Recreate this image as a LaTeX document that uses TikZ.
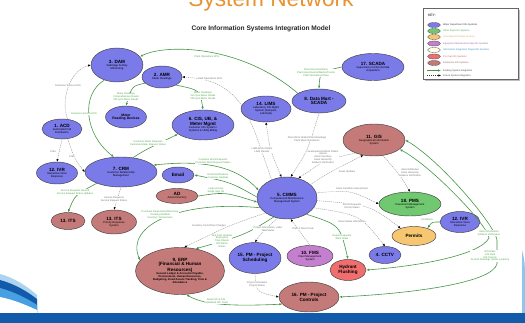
\documentclass[tikz,border=0pt]{standalone}
\usepackage{fontspec}
\setmainfont{Liberation Sans}
\usetikzlibrary{shapes.geometric,arrows.meta}
\definecolor{nblue}{RGB}{122,122,232}
\definecolor{nbrown}{RGB}{196,122,120}
\definecolor{ngreen}{RGB}{112,200,112}
\definecolor{norange}{RGB}{247,198,112}
\definecolor{npurple}{RGB}{196,128,206}
\definecolor{nred}{RGB}{240,110,110}
\definecolor{gline}{RGB}{70,150,70}
\definecolor{glabel}{RGB}{80,165,80}
\definecolor{titleor}{RGB}{232,146,48}
\definecolor{swdark}{RGB}{18,90,170}
\definecolor{swlight}{RGB}{70,160,225}
\newcommand\nodehd[1]{{\fontsize{4.6}{5}\selectfont\bfseries #1}}
\newcommand\nodemd[1]{{\fontsize{3.4}{3.8}\selectfont\bfseries #1}}
\begin{document}
\begin{tikzpicture}[x=1pt,y=-1pt,
  sys/.style={ellipse, draw=black!75, line width=0.45pt, inner sep=0pt, align=center, font=\fontsize{2.7}{3.1}\selectfont},
  bsys/.style={sys, fill=nblue},
  rsys/.style={sys, fill=nbrown},
  gsys/.style={sys, fill=ngreen},
  osys/.style={sys, fill=norange},
  psys/.style={sys, fill=npurple},
  hsys/.style={sys, fill=nred},
  eline/.style={draw=gline, line width=0.6pt, -{Latex[length=3pt,width=2.4pt]}},
  elineb/.style={draw=gline, line width=0.6pt, {Latex[length=3pt,width=2.4pt]}-{Latex[length=3pt,width=2.4pt]}},
  fline/.style={draw=black!45, line width=0.35pt, dash pattern=on 1.2pt off 0.8pt, -{Latex[length=2.6pt,width=2.2pt,color=black]}},
  flineb/.style={draw=black!45, line width=0.35pt, dash pattern=on 1.2pt off 0.8pt, {Latex[length=2.6pt,width=2.2pt,color=black]}-{Latex[length=2.6pt,width=2.2pt,color=black]}},
  lab/.style={font=\fontsize{2.5}{2.9}\selectfont, align=center, inner sep=0.3pt, fill=white},
  glab/.style={lab, text=glabel},
  flab/.style={lab, text=black!55},
  keye/.style={ellipse, draw=black!70, line width=0.3pt, minimum width=13pt, minimum height=5pt, inner sep=0pt},
  keyt/.style={anchor=west, inner sep=0pt, font=\fontsize{2.4}{2.8}\selectfont},
]
\useasboundingbox (0,0) rectangle (525,323);
% background
\fill[white] (0,0) rectangle (525,323);
\fill[swlight!45] (0,274) .. controls (15,278) and (28,287) .. (37,295) -- (37,323) -- (0,323) -- cycle;
\fill[swdark] (0,280) .. controls (15,284) and (28,292) .. (37,299) -- (37,323) -- (0,323) -- cycle;
\fill[swlight] (0,288) .. controls (15,292) and (28,299) .. (37,305) -- (37,323) -- (0,323) -- cycle;
\fill[white] (0,297) .. controls (15,300) and (28,306) .. (37,310) -- (37,323) -- (0,323) -- cycle;
\fill[swlight!60] (522,250) .. controls (525,262) .. (525,290) -- (525,313) -- (522,313) -- cycle;
\fill[swdark] (0,313) rectangle (525,323);

% title
\node[font=\fontsize{22.7}{24}\selectfont, text=titleor, anchor=base, inner sep=0pt] (title) at (271,7) {System Network};
\node[font=\fontsize{6.6}{7}\selectfont\bfseries, text=black!85, inner sep=0pt] (subtitle) at (261,29) {Core Information Systems Integration Model};

% key
\fill[black!25] (425,10) rectangle (520,81);
\node[draw=black!60, line width=0.4pt, fill=white, minimum width=95pt, minimum height=71pt, anchor=north west, inner sep=0pt] (key) at (423,8) {};
\node[keyt, font=\fontsize{3.4}{4}\selectfont] (keyhd) at (428,15) {KEY:};
\node[keye, fill=nblue] (k1) at (434,25) {};
\node[keyt, text=black!80] (k1t) at (443,25) {Water Department Info Systems};
\node[keye, fill=ngreen] (k2) at (434,31) {};
\node[keyt, text=glabel] (k2t) at (443,31) {Other Dept Info Systems};
\node[keye, fill=norange] (k3) at (434,37) {};
\node[keyt, text=norange!90!black] (k3t) at (443,37) {Unassigned Info/Mgt Systems};
\node[keye, fill=npurple] (k4) at (434,43.5) {};
\node[keyt, text=npurple!80!black] (k4t) at (443,43.5) {Equipment Maintenance Mgt Info Systems};
\node[keye, fill=yellow!8] (k5) at (434,50) {};
\node[keyt, text=cyan!70!black] (k5t) at (443,50) {Information Integration Target Info Systems};
\node[keye, fill=nred] (k6) at (434,56.5) {};
\node[keyt, text=nred!85!black] (k6t) at (443,56.5) {Pro Cap Info Systems};
\node[keye, fill=nbrown] (k7) at (434,63) {};
\node[keyt, text=nbrown!80!black] (k7t) at (443,63) {Enterprise Info Systems};
\coordinate (k8a) at (427,70.5); \coordinate (k8b) at (441,70.5);
\draw[eline] (k8a) -- (k8b);
\node[keyt, text=black!70] (k8t) at (443,70.5) {Existing System Integration};
\coordinate (k9a) at (427,75.5); \coordinate (k9b) at (441,75.5);
\draw[fline, draw=black!80] (k9a) -- (k9b);
\node[keyt, text=black!70] (k9t) at (443,75.5) {Future System Integration};

% systems
\node[bsys, minimum width=52pt, minimum height=34pt] (dam) at (117,65) {\nodehd{3. DAM}\\Sabotage Activity\\Monitoring};
\node[bsys, minimum width=40pt, minimum height=22pt] (amr) at (162,77) {\nodehd{2. AMR}\\Meter Readings};
\node[bsys, minimum width=41pt, minimum height=22pt] (mrd) at (126,117) {\nodemd{Meter}\\\nodemd{Reading Devices}};
\node[bsys, minimum width=40pt, minimum height=20pt] (acd) at (62,129) {\nodehd{1. ACD}\\Automated Call\\Distribution};
\node[bsys, minimum width=41pt, minimum height=22pt] (ivrl) at (57,173) {\nodehd{12. IVR}\\Interactive Voice\\Response};
\node[bsys, minimum width=72pt, minimum height=30pt] (crm) at (121,172) {\nodehd{7. CRM}\\Customer Relationship\\Management};
\node[bsys, minimum width=62pt, minimum height=30pt] (cis) at (203,125) {\nodehd{6. CIS, UB, \&}\\\nodehd{Meter Mgmt}\\Customer Info System /\\Systems \& Utility Billing};
\node[bsys, minimum width=50pt, minimum height=26pt] (lims) at (266,109) {\nodehd{14. LIMS}\\Laboratory Info Mgmt\\System (Samples,\\Lab Data)};
\node[bsys, minimum width=54pt, minimum height=24pt] (sdm) at (319,101) {\nodehd{8. Data Mart -}\\\nodehd{SCADA}};
\node[bsys, minimum width=62pt, minimum height=27pt] (scada) at (373,67) {\nodehd{17. SCADA}\\Supervisory Control \& Data\\Acquisition};
\node[rsys, minimum width=62pt, minimum height=32pt] (gis) at (374,140) {\nodehd{11. GIS}\\Geographical Information\\System};
\node[bsys, minimum width=32pt, minimum height=16pt] (email) at (178,175) {\nodehd{Email}};
\node[rsys, minimum width=42pt, minimum height=15pt] (ad) at (177,196) {\nodehd{AD}\\Active Directory};
\node[rsys, minimum width=34pt, minimum height=17pt] (its1) at (68,221) {\nodehd{13. ITS}};
\node[rsys, minimum width=45pt, minimum height=24pt] (its2) at (114,222) {\nodehd{13. ITS}\\Priority Response\\System};
\node[bsys, minimum width=60pt, minimum height=42pt] (cmms) at (287,198) {\nodehd{5. CMMS}\\Computerized Maintenance\\Management System};
\node[gsys, minimum width=62pt, minimum height=24pt] (pms) at (410,204) {\nodehd{18. PMS}\\Pavement Management\\System};
\node[bsys, minimum width=40pt, minimum height=21pt] (ivrr) at (460,222) {\nodehd{12. IVR}\\Interactive Voice\\Response};
\node[osys, minimum width=44pt, minimum height=19pt] (permits) at (414,236) {\nodehd{Permits}};
\node[rsys, minimum width=89pt, minimum height=47pt] (erp) at (180,271) {\nodehd{9. ERP}\\\nodehd{(Financial \& Human}\\\nodehd{Resources)}\\\textbf{General Ledger \& Accounts Payable,}\\\textbf{Procurement, Human Resources,}\\\textbf{Budgeting, Fixed Assets Tracking, Time \&}\\\textbf{Attendance}};
\node[bsys, minimum width=52pt, minimum height=31pt] (pmsched) at (255,258) {\nodehd{15. PM - Project}\\\nodehd{Scheduling}};
\node[psys, minimum width=46pt, minimum height=21pt] (fms) at (310,256) {\nodehd{10. FMS}\\Fleet Management\\System};
\node[hsys, minimum width=36pt, minimum height=21pt] (hf) at (348,270) {\nodehd{Hydrant}\\\nodehd{Flushing}};
\node[bsys, minimum width=32pt, minimum height=17pt] (cctv) at (385,255) {\nodehd{4. CCTV}};
\node[rsys, minimum width=60pt, minimum height=30pt] (pmc) at (309,297) {\nodehd{16. PM - Project}\\\nodehd{Controls}};

% connectors
\draw[eline] (sdm.160) .. controls (240,44) and (165,44) .. (dam.20);
\draw[eline] (amr.200) .. controls (132,86) .. (mrd.north);
\draw[eline] (amr.-30) .. controls (200,90) .. (cis.north);
\draw[fline] (cmms.130) .. controls (250,120) and (245,80) .. (amr.east);
\draw[fline] (acd.60) .. controls (60,100) and (70,70) .. (dam.west);
\draw[eline] (dam.230) .. controls (80,95) and (85,135) .. (crm.115);
\draw[eline] (crm.50) .. controls (145,150) .. (cis.200);
\draw[elineb] (crm.12) .. controls (200,160) and (235,165) .. (cmms.165);
\draw[eline] (cmms.178) .. controls (230,182) .. (email.east);
\draw[eline] (ad.east) .. controls (225,192) .. (cmms.188);
\draw[eline] (cmms.200) .. controls (180,200) and (125,225) .. (erp.165);
\draw[fline] (cmms.215) .. controls (230,225) .. (erp.80);
\draw[eline] (cmms.235) .. controls (245,235) .. (erp.55);
\draw[fline] (cmms.245) .. controls (262,232) .. (pmsched.north);
\draw[fline] (fms.north) .. controls (300,232) .. (cmms.280);
\draw[eline] (cmms.320) .. controls (340,225) .. (hf.north);
\draw[fline] (cmms.340) .. controls (360,215) .. (cctv.north);
\draw[fline] (cmms.355) .. controls (370,205) .. (permits.150);
\draw[fline] (cmms.10) .. controls (350,190) .. (pms.west);
\draw[fline] (cmms.30) .. controls (330,172) .. (gis.235);
\draw[fline] (gis.215) .. controls (325,160) .. (cmms.60);
\draw[fline] (sdm.south) .. controls (308,150) .. (cmms.80);
\draw[flineb] (lims.south) .. controls (270,150) .. (cmms.105);
\draw[fline] (gis.300) .. controls (400,175) .. (pms.north);
\draw[eline] (ivrr.west) .. controls (432,222) .. (permits.30);
\draw[eline] (scada.west) .. controls (320,72) .. (sdm.north);
\draw[elineb] (hf.east) .. controls (420,266) and (480,255) .. (489,238) .. controls (488,225) and (430,165) .. (gis.-20);
\draw[elineb] (pmc.east) .. controls (420,293) and (492,282) .. (497,264) -- (497,240) .. controls (495,225) and (440,160) .. (gis.east);
\draw[fline] (pmsched.south) .. controls (256,292) .. (pmc.west);
\draw[elineb] (pmc.195) .. controls (240,306) and (205,306) .. (erp.-75);
\draw[fline] (acd.south) -- (ivrl.north);
\draw[fline] (acd.-60) .. controls (75,160) .. (crm.west);
\draw[eline] (crm.205) .. controls (75,195) .. (its1.north);
\draw[fline] (crm.south) -- (its2.north);

% connector labels
\node[glab, fill=none] (l1) at (207,57) {Plant Operations KPIs};
\node[glab] (l2) at (126,97) {Meter Readings\\Comprehensive Reads\\Off-cycle Meter Reads};
\node[glab] (l3) at (203,96) {Meter Readings\\On-cycle Meter Reads\\Off-cycle Meter Reads};
\node[flab] (l4) at (210,79) {Field Operations KPIs};
\node[flab] (l5) at (68,86) {Customer Service KPIs};
\node[glab] (l6) at (84,114) {Customer Service KPIs};
\node[glab] (l7) at (148,143) {Customer Meter Requests\\Customer Meter Request Status};
\node[glab] (l8) at (213,161) {Customer Work Requests\\Customer Work Request Status};
\node[glab] (l9) at (218,176) {Email Notifications\\Customer Updates};
\node[glab] (l10) at (216,190) {Login Access\\Single Sign On};
\node[glab] (l11) at (160,215) {Purchase Requisitions/Receiving\\Tracking Info/Mail\\Inventory Transactions};
\node[flab] (l12) at (209,226) {Inventory Costs/Time Charges};
\node[glab] (l13) at (222,241) {Unit Cost Updates\\Employees\\Time Sheets\\HR Status\\Stores};
\node[flab] (l14) at (268,229) {Project Information, Labor\\Task/Status};
\node[flab] (l15) at (303,229) {Plant \& Fleet Costs};
\node[glab] (l16) at (342,237) {Repair Requests\\Work Order};
\node[flab] (l17) at (352,222) {Asset Status Information};
\node[flab] (l18) at (352,206) {Permit Requests\\Permit Status};
\node[flab] (l19) at (352,189) {Asset Condition Assessment};
\node[flab] (l20) at (347,172) {Asset Updates};
\node[flab] (l21) at (323,157) {GeoInspection/Work Orders\\Assets\\Asset Inventory\\Asset Hierarchy\\Address Verification};
\node[flab] (l22) at (307,139) {Plant Work Orders/Plant Readings\\Plant Work Operations};
\node[flab] (l23) at (262,150) {LIMS Work Orders\\LIMS Results};
\node[flab] (l24) at (410,173) {Asset Attributes\\Asset Hierarchy\\Address Verification};
\node[glab] (l25) at (427,220) {Conditions};
\node[glab] (l26) at (316,73) {Plant Asset Runtimes\\Plant Asset Events/Alarms/Trends\\Plant Operational Data};
\node[glab] (l27) at (489,233) {Asset Information\\Address Verification};
\node[glab] (l28) at (490,256) {GIS Maps\\GIS Data\\GIS Parcels\\As-Built Drawings (Asset Location)};
\node[flab] (l29) at (257,284) {Project Schedules\\Project Status};
\node[glab] (l30) at (216,301) {Asset CIP \& GIS\\Capitalized CIP Costs};
\node[flab] (l31) at (53,152) {Calls};
\node[flab] (l32) at (72,157) {Calls};
\node[glab] (l33) at (75,192) {Service Requests Routed\\Service Request Status Updates};
\node[flab] (l34) at (114,199) {Service Requests\\Service Request Status};
\end{tikzpicture}
\end{document}
